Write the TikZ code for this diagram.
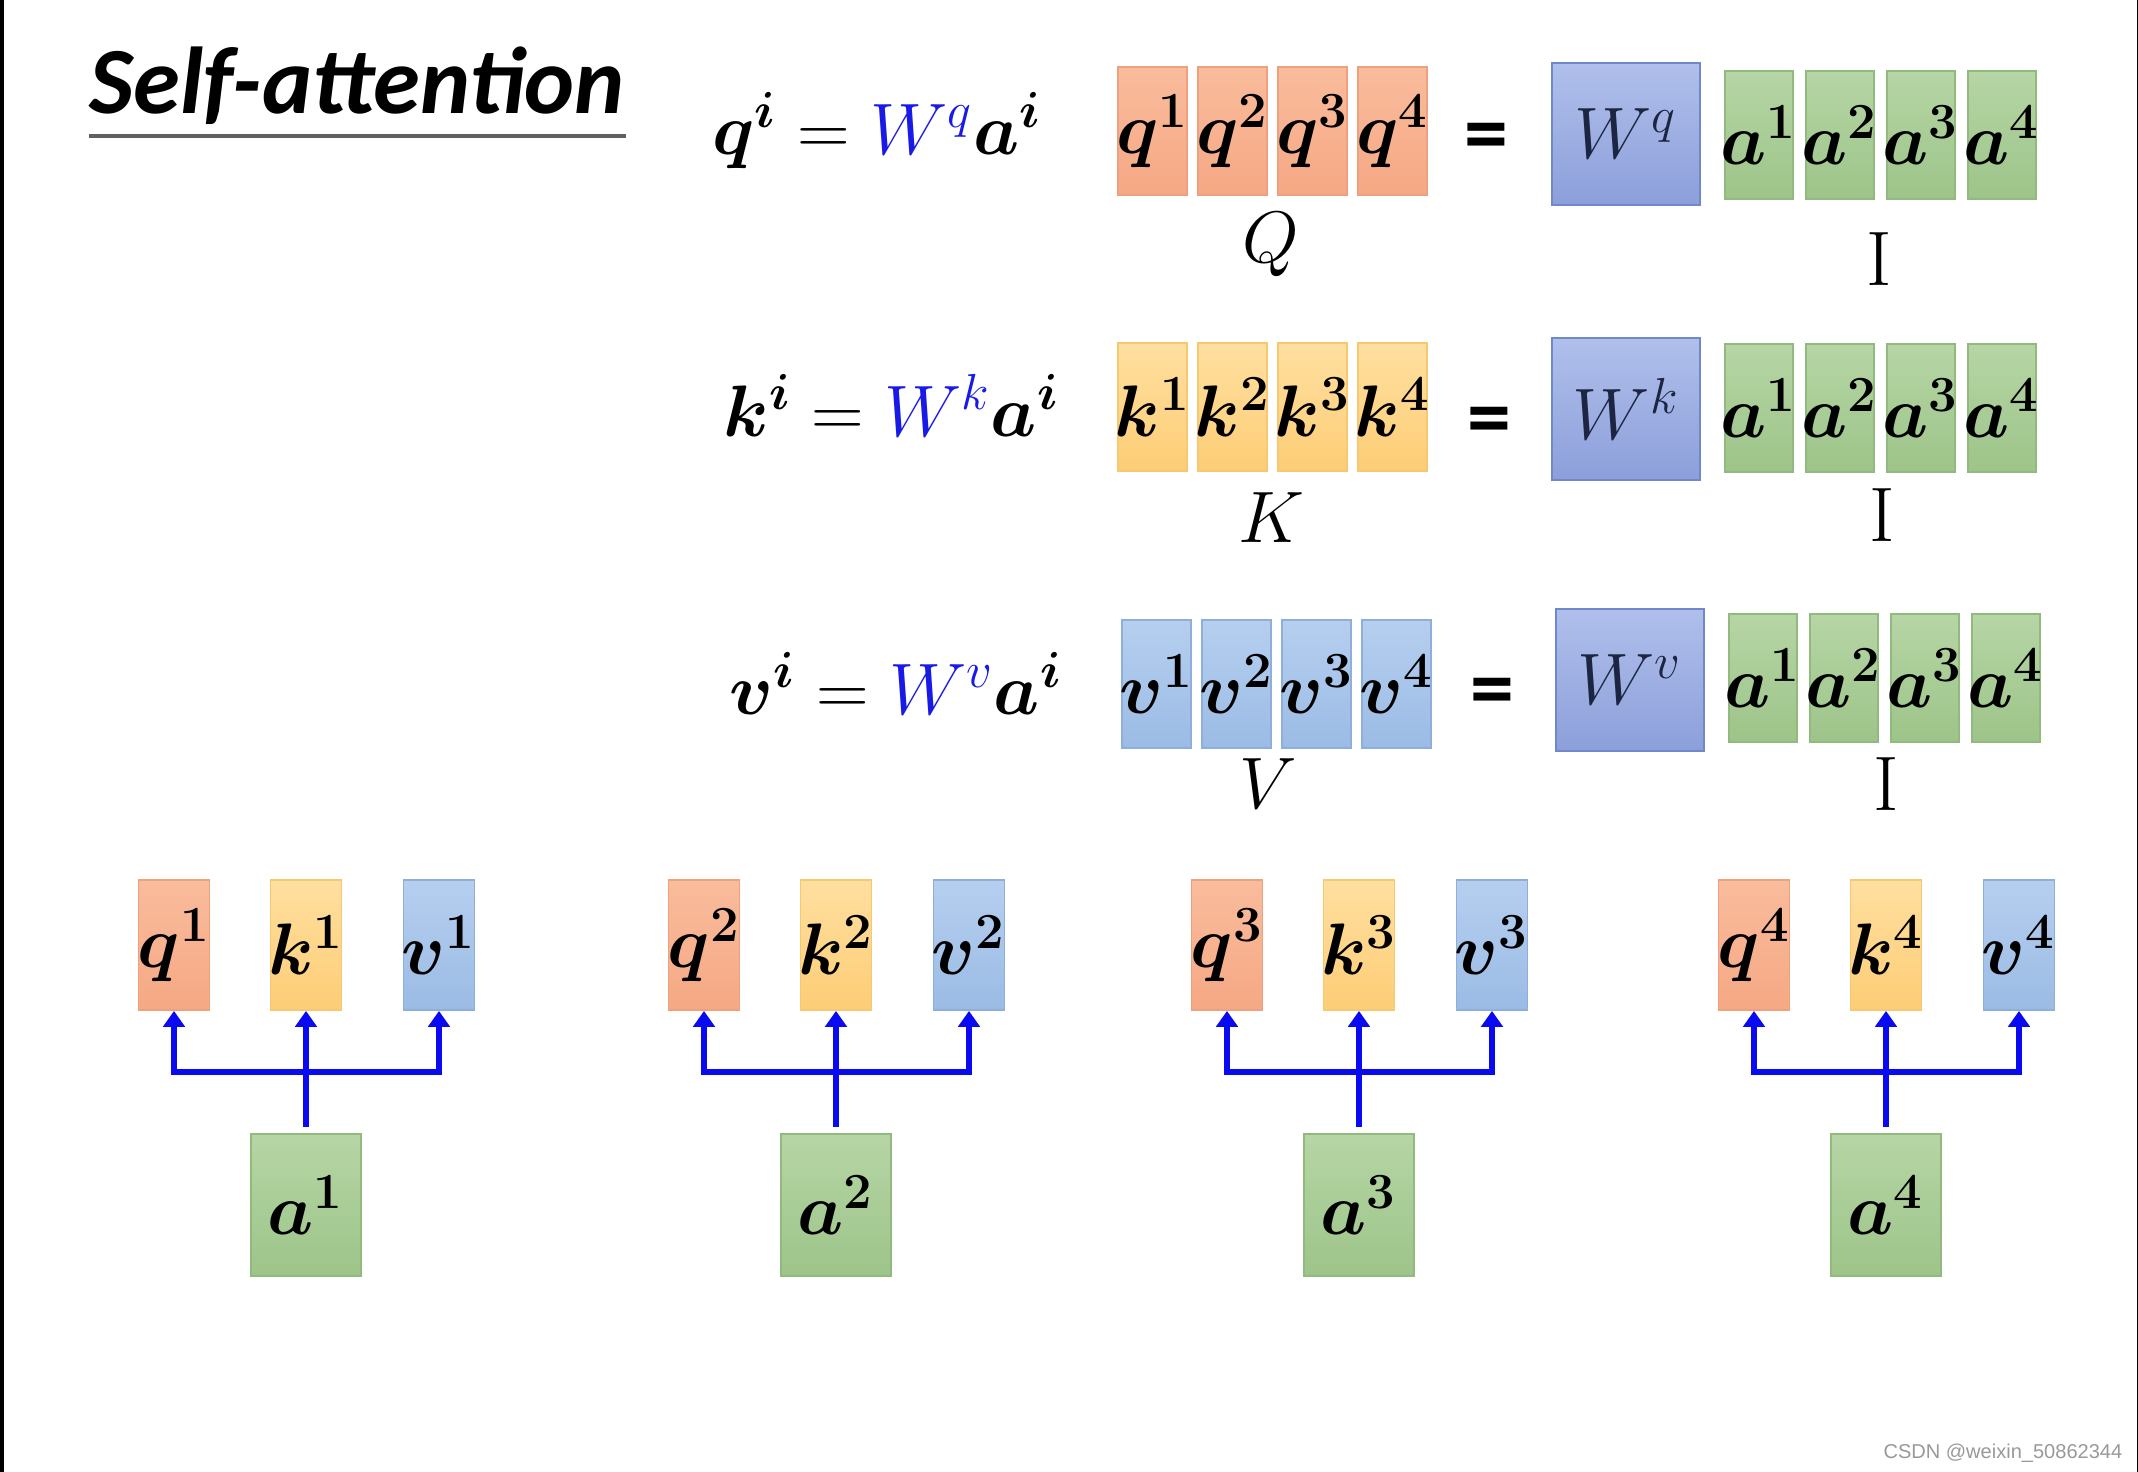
\documentclass[tikz,border=0pt]{standalone}
\usepackage{amsmath}
\usepackage{fontspec}
\newfontfamily\titlefont{Carlito}
\newfontfamily\markfont{Liberation Sans}
\usetikzlibrary{arrows.meta}

% colours of the cells
\definecolor{qtop}{HTML}{F9BC9C}
\definecolor{qbot}{HTML}{F6A884}
\definecolor{qline}{HTML}{EDA17E}
\definecolor{ktop}{HTML}{FFDFA0}
\definecolor{kbot}{HTML}{FDCD76}
\definecolor{kline}{HTML}{F6C870}
\definecolor{vtop}{HTML}{B6CFEF}
\definecolor{vbot}{HTML}{9BBBE5}
\definecolor{vline}{HTML}{8EAFDC}
\definecolor{atop}{HTML}{B6D6A5}
\definecolor{abot}{HTML}{9DC489}
\definecolor{aline}{HTML}{92BA7E}
\definecolor{wtop}{HTML}{B0BFEB}
\definecolor{wbot}{HTML}{8C9FDA}
\definecolor{wline}{HTML}{6E88CA}
\definecolor{wtext}{HTML}{1C2541}
\definecolor{linkblue}{HTML}{0A0AF0}
\definecolor{eqblue}{HTML}{1A1AE6}

\newcommand{\bsym}[1]{\boldsymbol{#1}}
\newcommand{\cellmath}[1]{\makebox[0pt]{$\boldsymbol{#1}$}}

\begin{document}
\begin{tikzpicture}[x=0.01cm, y=-0.01cm,
    big/.style={font=\fontsize{22}{26}\selectfont},
    cell/.style={big, draw, line width=0.5pt, inner sep=0pt, minimum width=0.69cm, minimum height=1.28cm},
    tint/.style={draw=#1line, top color=#1top, bottom color=#1bot},
    wcell/.style={cell, tint=w, minimum width=1.48cm, minimum height=1.42cm, text=wtext},
    eqsign/.style={font=\titlefont\bfseries\fontsize{25}{30}\selectfont},
    link/.style={draw=linkblue, line width=1.5pt},
    arr/.style={link, -{Triangle[width=6pt, length=4.5pt]}}
]
    % Page
    \fill[white] (0,0) rectangle (2138,1472);
    \useasboundingbox (0,0) rectangle (2138,1472);
    \fill[black] (0,0) rectangle (4,1472);
    \fill[black] (2136.5,0) rectangle (2138,1472);

    % Title
    \node[anchor=base west, inner sep=0pt, font=\titlefont\bfseries\itshape\fontsize{27}{32}\selectfont] (title) at (89, 113) {Self-attention};
    \draw[black!62, line width=0.9pt] ([yshift=-0.23cm]title.base west) -- ([yshift=-0.23cm]title.base east);

    % Equations q^i, k^i, v^i
    \foreach \r/\R/\x/\y in {q/Q/712/154, k/K/723/436, v/V/729/714} {
        \node[big, anchor=base west, inner sep=0pt] (eq\R) at (\x, \y) {$\bsym{\r^{i}} = {\color{eqblue}W^{\r}}\bsym{a^{i}}$};
    }

    % Q, K, V = W I
    \foreach \r/\R/\y/\dx/\yw/\ya in {q/Q/131/0/134/135, k/K/407/0/409/408, v/V/684/4/680/678} {
        \foreach \i in {1,...,4} {
            \node[cell, tint=\r] (\R\i) at (1152.5+\dx+80*\i-80, \y) {\cellmath{\r^{\i}}};
            \node[cell, tint=a, minimum width=0.68cm] (I\R\i) at (1759+\dx+81*\i-81, \ya) {\cellmath{a^{\i}}};
        }
        \node[wcell] (W\R) at (1626+\dx, \yw) {$W^{\r}$};
    }

    % Equal signs
    \node[eqsign] (isQ) at (1486, 143) {=};
    \node[eqsign] (isK) at (1489, 427) {=};
    \node[eqsign] (isV) at (1492, 698) {=};

    % Matrix names
    \node[big] (Qname) at (1271, 245) {$Q$};
    \node[big] (Kname) at (1271, 518) {$K$};
    \node[big] (Vname) at (1268, 784) {$V$};
    \node[big] (IQname) at (1879, 259) {$\mathrm{I}$};
    \node[big] (IKname) at (1882, 515) {$\mathrm{I}$};
    \node[big] (IVname) at (1886, 784) {$\mathrm{I}$};

    % a^i -> q^i, k^i, v^i
    \foreach \n/\x in {1/306, 2/836, 3/1359, 4/1886} {
        \node[cell, tint=q, minimum width=0.71cm, minimum height=1.30cm] (q\n) at (\x-132, 945) {\cellmath{q^{\n}}};
        \node[cell, tint=k, minimum width=0.71cm, minimum height=1.30cm] (k\n) at (\x, 945) {\cellmath{k^{\n}}};
        \node[cell, tint=v, minimum width=0.71cm, minimum height=1.30cm] (v\n) at (\x+133, 945) {\cellmath{v^{\n}}};
        \node[cell, tint=a, minimum width=1.10cm, minimum height=1.42cm] (a\n) at (\x, 1205) {\cellmath{a^{\n}}};
        \coordinate (j\n) at (\x, 1072);
        \draw[arr, shorten <=0.06cm] (a\n.north) -- (k\n.south);
        \draw[arr] (j\n) -| (q\n.south);
        \draw[arr] (j\n) -| (v\n.south);
    }

    % Watermark
    \node[anchor=base east, inner sep=0pt, text=black!40, font=\markfont\fontsize{5.7}{7}\selectfont] (mark) at (2123, 1458) {CSDN @weixin\_50862344};
\end{tikzpicture}
\end{document}
